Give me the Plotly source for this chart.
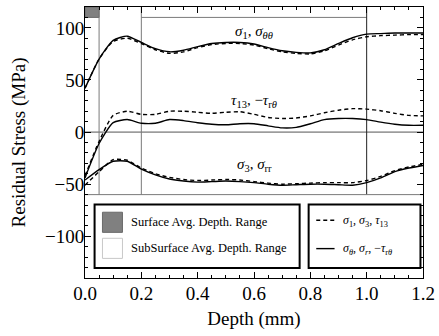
import plotly.graph_objects as go

# ---- data (depth in mm, stress in MPa) ----
depth = [0.0, 0.05, 0.1, 0.15, 0.2, 0.25, 0.3, 0.35, 0.4, 0.45, 0.5, 0.55, 0.6,
         0.65, 0.7, 0.75, 0.8, 0.85, 0.9, 0.95, 1.0, 1.05, 1.1, 1.15, 1.2]

sigma_tt = [42, 70, 88, 92, 86, 80, 77, 78.5, 82, 85, 86, 86, 84.5,
            81, 78, 76.5, 76, 79, 85, 90.5, 94, 94.5, 95, 95, 95]
sigma_1 = [42, 70, 87, 90, 85, 79, 75.5, 77, 81, 84, 85, 85, 83.5,
           80, 77, 75.5, 75, 78, 83.5, 88.5, 91.5, 92.5, 93, 93.5, 93.5]

neg_tau_rt = [-44, -11, 9, 12, 8.5, 8.5, 12, 11, 9, 7.5, 7, 8, 8,
              6, 4, 4.5, 8, 12, 13, 13, 12, 9.5, 7.5, 6.5, 6.5]
tau_13 = [-42, -9, 16, 20, 17, 17, 20, 20, 19, 18, 19, 19.5, 17,
          14, 13, 13.5, 15.5, 18.5, 21, 22.5, 22, 20.5, 18, 16, 15.5]

sigma_rr = [-46, -36, -28, -28, -35.5, -41, -45, -47, -48, -47.5, -47, -47.5, -48.5,
            -50, -51, -50.5, -50, -50, -50.5, -51, -48.5, -44, -38, -34.5, -32]
sigma_3 = [-51, -38, -26.5, -27, -34.5, -40, -43.5, -45.5, -46.5, -46, -45.5, -46, -47.5,
           -49, -50, -49.5, -49, -48.5, -48.5, -48.5, -46.5, -42.5, -37, -33.5, -31]

x_ticks = [0.0, 0.2, 0.4, 0.6, 0.8, 1.0, 1.2]
y_ticks = [-100, -50, 0, 50, 100]

surface_range = [0.0, 0.05]
subsurface_range = [0.2, 1.0]

SERIF = "Liberation Serif"
DASH = "4px,3px"

fig = go.Figure()

solid_sets = [sigma_tt, neg_tau_rt, sigma_rr]
dashed_sets = [sigma_1, tau_13, sigma_3]
for ys in dashed_sets:
    fig.add_trace(go.Scatter(x=depth, y=ys, mode="lines",
                             line=dict(color="black", width=1.4, dash=DASH,
                                       shape="spline", smoothing=0.6),
                             showlegend=False, hoverinfo="skip"))
for ys in solid_sets:
    fig.add_trace(go.Scatter(x=depth, y=ys, mode="lines",
                             line=dict(color="black", width=1.4,
                                       shape="spline", smoothing=0.6),
                             showlegend=False, hoverinfo="skip"))

shapes = []
# zero line
shapes.append(dict(type="line", x0=0, x1=1.2, y0=0, y1=0,
                   line=dict(color="#555555", width=1), layer="below"))
# surface range box at top
shapes.append(dict(type="rect", x0=surface_range[0], x1=surface_range[1], y0=110, y1=120,
                   fillcolor="#808080", line=dict(color="#6a6a6a", width=1), layer="below"))
shapes.append(dict(type="line", x0=surface_range[1], x1=surface_range[1], y0=-60, y1=120,
                   line=dict(color="#7a7a7a", width=1), layer="below"))
# subsurface range
shapes.append(dict(type="line", x0=subsurface_range[0], x1=subsurface_range[0], y0=-60, y1=120,
                   line=dict(color="#7a7a7a", width=1), layer="below"))
shapes.append(dict(type="line", x0=subsurface_range[0], x1=subsurface_range[1], y0=110, y1=110,
                   line=dict(color="#7a7a7a", width=1), layer="below"))
shapes.append(dict(type="line", x0=subsurface_range[1], x1=subsurface_range[1], y0=-60, y1=120,
                   line=dict(color="#222222", width=1), layer="below"))
# legend backdrop top line
shapes.append(dict(type="line", x0=0, x1=1.2, y0=-60, y1=-60,
                   line=dict(color="#7a7a7a", width=1), layer="below"))
# legend boxes
shapes.append(dict(type="rect", x0=0.034, x1=0.762, y0=-130.5, y1=-69.5,
                   line=dict(color="black", width=2), fillcolor="white"))
shapes.append(dict(type="rect", x0=0.794, x1=1.191, y0=-130.5, y1=-69.5,
                   line=dict(color="black", width=2), fillcolor="white"))
# swatches
shapes.append(dict(type="rect", x0=0.062, x1=0.133, y0=-96.2, y1=-76.9,
                   fillcolor="#808080", line=dict(color="#6a6a6a", width=1)))
shapes.append(dict(type="rect", x0=0.062, x1=0.133, y0=-121.2, y1=-101.9,
                   fillcolor="white", line=dict(color="#c8c8c8", width=1)))
# line samples
shapes.append(dict(type="line", x0=0.821, x1=0.886, y0=-84.6, y1=-84.6,
                   line=dict(color="black", width=1.4, dash=DASH)))
shapes.append(dict(type="line", x0=0.821, x1=0.886, y0=-111.8, y1=-111.8,
                   line=dict(color="black", width=1.4)))

annotations = [
    dict(x=0.6, y=96, text="<i>σ</i><sub>1</sub>, <i>σ</i><sub><i>θθ</i></sub>",
         showarrow=False, font=dict(family=SERIF, size=15, color="black")),
    dict(x=0.6, y=30, text="<i>τ</i><sub>13</sub>, −<i>τ</i><sub>r<i>θ</i></sub>",
         showarrow=False, font=dict(family=SERIF, size=15, color="black")),
    dict(x=0.6, y=-32, text="<i>σ</i><sub>3</sub>, <i>σ</i><sub>rr</sub>",
         showarrow=False, font=dict(family=SERIF, size=15, color="black")),
    dict(x=0.1545, y=-86.5, text="Surface Avg. Depth. Range", xanchor="left",
         showarrow=False, font=dict(family=SERIF, size=12.5, color="black")),
    dict(x=0.1545, y=-111, text="SubSurface Avg. Depth. Range", xanchor="left",
         showarrow=False, font=dict(family=SERIF, size=12.5, color="black")),
    dict(x=0.908, y=-85, text="<i>σ</i><sub>1</sub>, <i>σ</i><sub>3</sub>, <i>τ</i><sub>13</sub>",
         xanchor="left", showarrow=False, font=dict(family=SERIF, size=12, color="black")),
    dict(x=0.908, y=-112, text="<i>σ</i><sub><i>θ</i></sub>, <i>σ</i><sub><i>r</i></sub>, −<i>τ</i><sub>r<i>θ</i></sub>",
         xanchor="left", showarrow=False, font=dict(family=SERIF, size=12, color="black")),
]

fig.update_layout(
    width=439, height=336,
    margin=dict(l=85, r=16, t=7, b=58),
    paper_bgcolor="white", plot_bgcolor="white",
    font=dict(family=SERIF, size=19, color="black"),
    shapes=shapes, annotations=annotations,
    showlegend=False,
)
fig.update_xaxes(
    range=[0, 1.2], tickvals=x_ticks, ticktext=[f"{v:.1f}" for v in x_ticks],
    ticks="inside", ticklen=6, tickcolor="black", tickwidth=1,
    minor=dict(dtick=0.05, tick0=0, ticks="inside", ticklen=3, tickcolor="black", showgrid=False),
    showline=True, linecolor="black", linewidth=1, mirror="allticks",
    showgrid=False, zeroline=False, automargin=False,
    ticklabelstandoff=-2,
    title=dict(text="Depth (mm)", font=dict(family=SERIF, size=19), standoff=8),
    tickfont=dict(family=SERIF, size=19),
)
fig.update_yaxes(
    range=[-140, 120], tickvals=y_ticks,
    ticks="inside", ticklen=6, tickcolor="black", tickwidth=1,
    minor=dict(dtick=10, tick0=0, ticks="inside", ticklen=3, tickcolor="black", showgrid=False),
    showline=True, linecolor="black", linewidth=1, mirror="allticks",
    showgrid=False, zeroline=False, automargin=False,
    ticklabelstandoff=-4,
    title=dict(text="Residual Stress (MPa)", font=dict(family=SERIF, size=19), standoff=14),
    tickfont=dict(family=SERIF, size=19),
)

fig.write_html("out.html", config={"displayModeBar": False},
               post_script="document.body.style.margin='0px';")
